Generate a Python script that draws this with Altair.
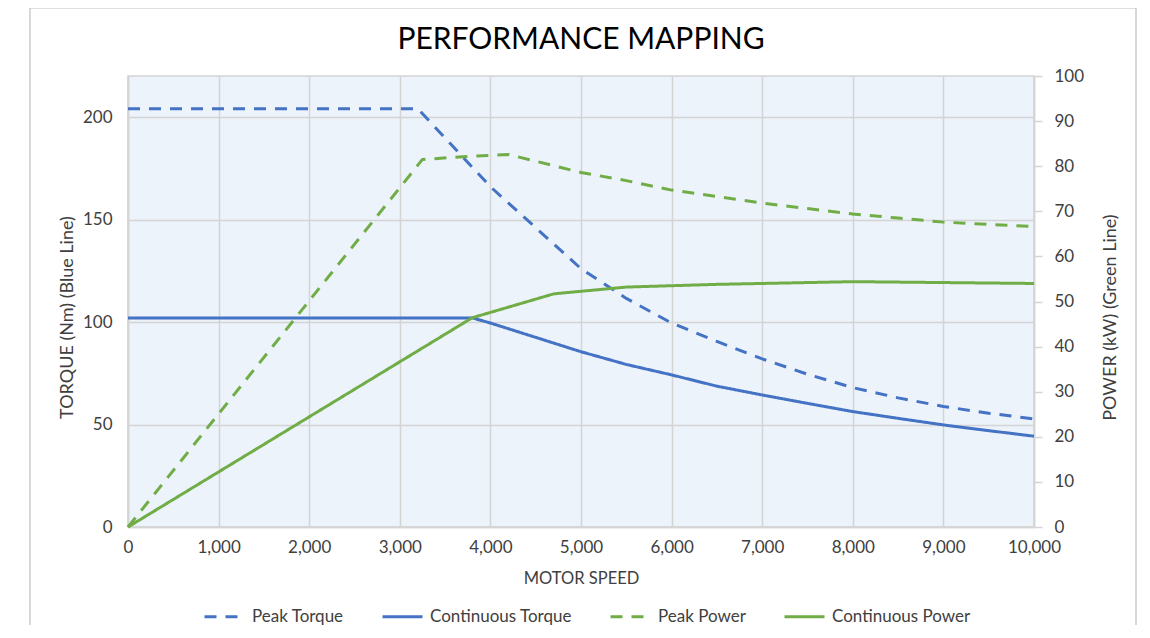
import altair as alt
import pandas as pd

TITLE = "PERFORMANCE MAPPING"
X_TITLE = "MOTOR SPEED"
Y_LEFT_TITLE = "TORQUE (Nm) (Blue Line)"
Y_RIGHT_TITLE = "POWER (kW) (Green Line)"

series_names = ["Peak Torque", "Continuous Torque", "Peak Power", "Continuous Power"]
series_colors = ["#4472C4", "#4472C4", "#70AD47", "#70AD47"]
series_dash = [[12, 9], [1, 0], [12, 9], [1, 0]]

# Peak torque (Nm)
pt_rpm = [0, 3200, 4000, 4500, 5000, 5500, 6000, 6500, 7000, 7500, 8000, 8500, 9000, 9500, 10000]
pt_val = [204, 204, 166, 146, 126, 111.5, 99.5, 90.5, 82, 74.5, 68, 63, 58.8, 55.5, 52.7]

# Continuous torque (Nm)
ct_rpm = [0, 3800, 4000, 4500, 5000, 5500, 6000, 6500, 7000, 7500, 8000, 8500, 9000, 9500, 10000]
ct_val = [102, 102, 99.5, 92.5, 85.5, 79.3, 74.2, 68.7, 64.4, 60.3, 56.3, 53, 49.8, 47, 44.3]

# Peak power (kW)
pp_rpm = [0, 3250, 3700, 4200, 5000, 5500, 6000, 6500, 7000, 7500, 8000, 8500, 9000, 9500, 10000]
pp_val = [0, 81.5, 82.1, 82.6, 78.6, 76.8, 74.7, 73.3, 71.8, 70.6, 69.4, 68.5, 67.6, 67.1, 66.6]

# Continuous power (kW)
cp_rpm = [0, 3800, 4700, 5500, 6500, 7000, 8000, 9000, 10000]
cp_val = [0, 46.4, 51.7, 53.2, 53.8, 54.0, 54.4, 54.2, 54.0]

x_ticks = list(range(0, 10001, 1000))
torque_ticks = [0, 50, 100, 150, 200]
power_ticks = list(range(0, 101, 10))

FONT = "Lato"
GRID = "#d4d4d4"
TEXT = "#404040"
PLOT_FILL = "#edf3fb"


def frame(rpm, val, name):
    return pd.DataFrame({"rpm": rpm, "value": val, "series": name})


torque_df = pd.concat([frame(pt_rpm, pt_val, series_names[0]),
                       frame(ct_rpm, ct_val, series_names[1])])
power_df = pd.concat([frame(pp_rpm, pp_val, series_names[2]),
                      frame(cp_rpm, cp_val, series_names[3])])

legend = alt.Legend(
    title=None, orient="none", direction="horizontal",
    legendX=75, legendY=519,
    symbolType="stroke", symbolSize=1600, symbolStrokeWidth=3,
    labelFont=FONT, labelFontSize=17, labelColor=TEXT,
    columnPadding=32, labelOffset=6, padding=0,
)

color = alt.Color("series:N", scale=alt.Scale(domain=series_names, range=series_colors), legend=legend)
dash = alt.StrokeDash("series:N", scale=alt.Scale(domain=series_names, range=series_dash), legend=legend)

x_enc = alt.X(
    "rpm:Q",
    scale=alt.Scale(domain=[0, 10000], nice=False),
    axis=alt.Axis(
        values=x_ticks, labelExpr="format(datum.value, ',')", title=X_TITLE,
        grid=True, gridColor=GRID, gridWidth=1.5, labelFlush=False,
        ticks=False, domainColor=GRID, domainWidth=1.5, labelPadding=12,
        labelFont=FONT, labelFontSize=17, labelColor=TEXT,
        titleFont=FONT, titleFontSize=16.5, titleFontWeight="normal", titleColor=TEXT, titlePadding=15,
    ),
)

torque = alt.Chart(torque_df).mark_line(strokeWidth=3, strokeJoin="round").encode(
    x=x_enc,
    y=alt.Y(
        "value:Q",
        scale=alt.Scale(domain=[0, 220], nice=False),
        axis=alt.Axis(
            orient="left", values=torque_ticks, title=Y_LEFT_TITLE, grid=True, gridColor=GRID, gridWidth=1.5,
            ticks=False, domainColor=GRID, domainWidth=1.5, labelPadding=16, labelFlush=False,
            labelFont=FONT, labelFontSize=17, labelColor=TEXT,
            titleFont=FONT, titleFontSize=18, titleFontWeight="normal", titleColor=TEXT,
            titlePadding=6, titleY=241,
        ),
    ),
    color=color,
    strokeDash=dash,
)

power = alt.Chart(power_df).mark_line(strokeWidth=3, strokeJoin="round").encode(
    x=x_enc,
    y=alt.Y(
        "value:Q",
        scale=alt.Scale(domain=[0, 100], nice=False),
        axis=alt.Axis(
            orient="right", values=power_ticks, title=Y_RIGHT_TITLE, grid=False,
            ticks=True, tickSize=8, tickColor=GRID, tickWidth=1.5, labelFlush=False,
            domainColor=GRID, domainWidth=1.5, labelPadding=12,
            labelFont=FONT, labelFontSize=17, labelColor=TEXT,
            titleFont=FONT, titleFontSize=18, titleFontWeight="normal", titleColor=TEXT,
            titleAngle=270, titlePadding=36, titleY=241,
        ),
    ),
    color=color,
    strokeDash=dash,
)

border = alt.Chart(pd.DataFrame({"k": [0]})).mark_rect(
    fillOpacity=0, stroke="#bfbfbf", strokeWidth=1.2
).encode(
    x=alt.value(-98), x2=alt.value(1008), y=alt.value(-68), y2=alt.value(600)
)

chart = (
    alt.layer(torque, power, border)
    .resolve_scale(y="independent")
    .properties(
        width=906, height=451,
        view=alt.ViewBackground(fill=PLOT_FILL, stroke=GRID, strokeWidth=1.5),
        title=alt.TitleParams(TITLE, font=FONT, fontSize=30, fontWeight="normal", color="#000000", offset=-48),
        padding={"left": 120, "top": 68, "right": 108, "bottom": 98},
        autosize=alt.AutoSizeParams(type="none"),
    )
    .configure_view(fill=PLOT_FILL, stroke=GRID, strokeWidth=1.5)
    .configure(background="white")
)

chart.save("out.html", embed_options={"renderer": "svg", "actions": False})
